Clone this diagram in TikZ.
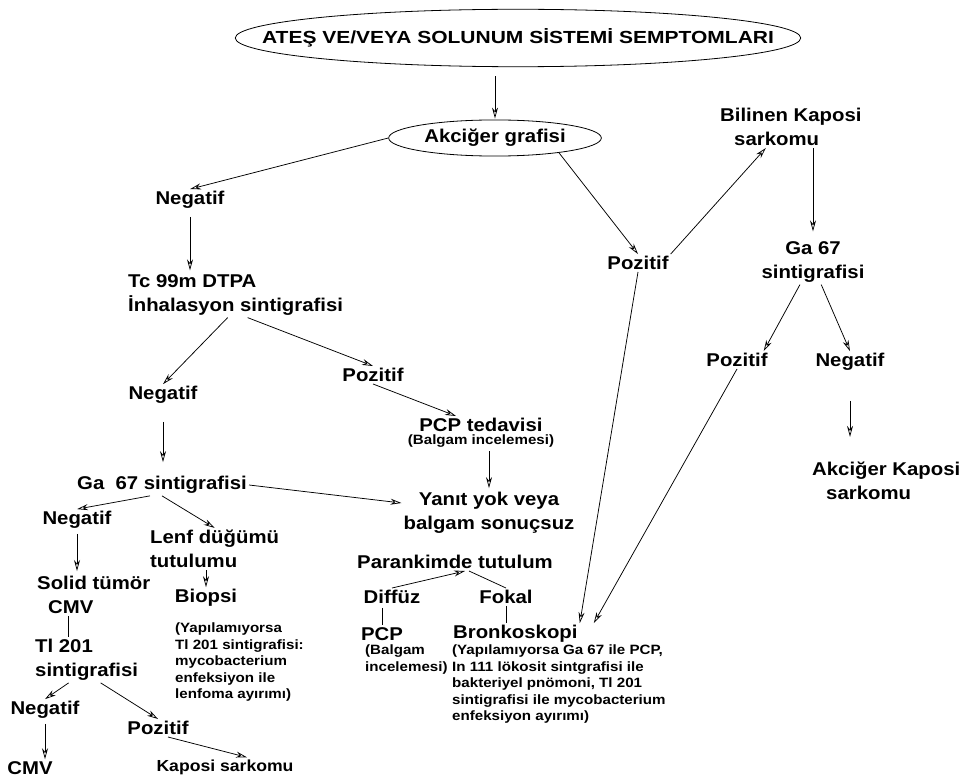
\documentclass[tikz,border=0pt]{standalone}
\usepackage{fontspec}
\setmainfont{Liberation Sans}[FakeStretch=1.1]
\newfontfamily\titlefont{Liberation Sans}[FakeStretch=1.2]
\newfontfamily\notefont{Liberation Sans}[FakeStretch=1.12]
\usetikzlibrary{arrows.meta,positioning,shapes.geometric}

\begin{document}
\begin{tikzpicture}[x=1pt,y=-1pt,
    lbl/.style={font=\bfseries\fontsize{18.5}{24}\selectfont,inner sep=2pt,align=center},
    note/.style={font=\notefont\bfseries\fontsize{13.5}{16.5}\selectfont,inner sep=1pt,align=left},
    oval/.style={draw,ellipse,line width=0.8pt,inner sep=0pt},
    arr/.style={-{Stealth[open,length=11pt,width=6pt]},line width=0.75pt},
    link/.style={line width=0.75pt}]
        \useasboundingbox (0,0) rectangle (962,781);

        % top of the chart
        \node[oval,font=\titlefont\bfseries\fontsize{17.5}{20}\selectfont,inner xsep=-56pt,inner ysep=11pt] (symptoms) at (518,38) {ATEŞ VE/VEYA SOLUNUM SİSTEMİ SEMPTOMLARI};
        \node[oval,lbl,inner xsep=4.5pt,inner ysep=4pt] (xray) at (495,138) {Akciğer grafisi};
        \node[lbl] (xrayneg) at (190,200) {Negatif};
        \node[lbl] (xraypos) at (638,263) {Pozitif};

        % known Kaposi sarcoma
        \node[lbl,anchor=west,align=left] (knownks) at (718,127) {Bilinen Kaposi\\\hspace*{14pt}sarkomu};
        \node[lbl] (gallR) at (813,262) {Ga 67\\sintigrafisi};
        \node[lbl] (gallRpos) at (737,360) {Pozitif};
        \node[lbl] (gallRneg) at (850,362) {Negatif};
        \node[lbl,anchor=west,align=left] (lungks) at (810,481) {Akciğer Kaposi\\\hspace*{14pt}sarkomu};

        % DTPA branch
        \node[lbl,anchor=west,align=left] (dtpa) at (126,295) {Tc 99m DTPA\\İnhalasyon sintigrafisi};
        \node[lbl] (dtpaneg) at (163,395) {Negatif};
        \node[lbl] (dtpapos) at (373,375) {Pozitif};
        \node[lbl] (pcptx) at (481,425) {PCP tedavisi};
        \node[note,below=0pt of pcptx] (pcptxnote) {(Balgam incelemesi)};
        \node[lbl] (noresp) at (489,513) {Yanıt yok veya\\balgam sonuçsuz};

        % gallium branch
        \node[lbl] (gall) at (162,485) {Ga\ \ 67 sintigrafisi};
        \node[lbl] (gallneg) at (77,520) {Negatif};
        \node[lbl,anchor=west,align=left] (lymph) at (148,549) {Lenf düğümü\\tutulumu};
        \node[lbl,anchor=west,align=left] (solid) at (35,595) {Solid tümör\\\hspace*{11pt}CMV};
        \node[lbl] (biopsy) at (206,598) {Biopsi};
        \node[note,anchor=north west] (biopsynote) at (174,622) {(Yapılamıyorsa\\Tl 201 sintigrafisi:\\mycobacterium\\enfeksiyon ile\\lenfoma ayırımı)};
        \node[lbl,anchor=west,align=left] (thal) at (33,660) {Tl 201\\sintigrafisi};
        \node[lbl] (thalneg) at (45,710) {Negatif};
        \node[lbl] (thalpos) at (158,728) {Pozitif};
        \node[lbl] (cmv) at (30,768) {CMV};
        \node[lbl,font=\bfseries\fontsize{16}{20}\selectfont] (ks) at (225,767) {Kaposi sarkomu};

        % parenchyma branch
        \node[lbl] (paren) at (455,562) {Parankimde tutulum};
        \node[lbl] (diffuse) at (392,597) {Diffüz};
        \node[lbl] (focal) at (506,597) {Fokal};
        \node[lbl] (pcp) at (382,634) {PCP};
        \node[note,anchor=north west] (pcpnote) at (364,644) {(Balgam\\incelemesi)};
        \node[lbl,anchor=west] (bronch) at (451,634) {Bronkoskopi};
        \node[note,anchor=north west] (bronchnote) at (451,644) {(Yapılamıyorsa Ga 67 ile PCP,\\In 111 lökosit sintgrafisi ile\\bakteriyel pnömoni, Tl 201\\sintigrafisi ile mycobacterium\\enfeksiyon ayırımı)};

        % arrows
        \draw[arr,shorten <=9pt,shorten >=1pt] (xray.north |- symptoms.south) -- (xray.north);
        \draw[arr] (xray.west) -- (xrayneg.north);
        \draw[arr] (xray.-13) -- (xraypos.north);
        \draw[arr] (xraypos.north east) -- (knownks.-140);
        \draw[arr,shorten >=8pt] (gallR.north |- knownks.south) -- (gallR.north);
        \draw[arr] (gallR.-120) -- ([xshift=-6pt]gallRpos.north east);
        \draw[arr] (gallR.-70) -- (gallRneg.north);
        \draw[arr,shorten <=28pt,shorten >=23pt] (gallRneg.south) -- (gallRneg.south |- lungks.north);
        \draw[arr] (xraypos.south) -- (bronch.north east);
        \draw[arr] (gallRpos.south) -- ([xshift=14pt]bronch.north east);

        \draw[arr,shorten <=6pt,shorten >=2pt] (xrayneg.south) -- (dtpa.north -| xrayneg.south);
        \draw[arr] ([xshift=-8pt]dtpa.south) -- (dtpaneg.north);
        \draw[arr] ([xshift=12pt]dtpa.south) -- (dtpapos.north);
        \draw[arr] (dtpapos.south) -- ([xshift=-25pt]pcptx.north);
        \draw[arr,shorten <=2pt,shorten >=2pt] (noresp.north |- pcptxnote.south) -- (noresp.north);
        \draw[arr,shorten <=16pt,shorten >=12pt] (dtpaneg.south) -- (gall.north -| dtpaneg.south);

        \draw[arr] (gall.east) -- ([yshift=10pt]noresp.west);
        \draw[arr] ([xshift=-12pt]gall.south) -- (gallneg.north);
        \draw[arr] (gall.south) -- (lymph.north);
        \draw[arr,shorten <=3pt,shorten >=3pt] (gallneg.south) -- (solid.north -| gallneg.south);
        \draw[arr] (biopsy.north |- lymph.south) -- (biopsy.north);
        \draw[link] ([xshift=-25pt]solid.south) -- ([xshift=-25pt]solid.south |- thal.north);
        \draw[arr] ([xshift=-18pt]thal.south) -- (thalneg.north);
        \draw[arr] ([xshift=14pt]thal.south) -- (thalpos.north);
        \draw[arr,shorten <=3pt] (thalneg.south) -- (cmv.north -| thalneg.south);
        \draw[arr] ([xshift=10pt]thalpos.south) -- ([xshift=22pt]ks.north);

        \draw[arr] (diffuse.north) -- ([xshift=10pt]paren.south);
        \draw[link] ([xshift=14pt]paren.south) -- (focal.north);
        \draw[link,shorten <=2pt] (pcp.north |- diffuse.south) -- (pcp.north);
        \draw[link] (focal.south) -- (focal.south |- bronch.north);
\end{tikzpicture}
\end{document}
